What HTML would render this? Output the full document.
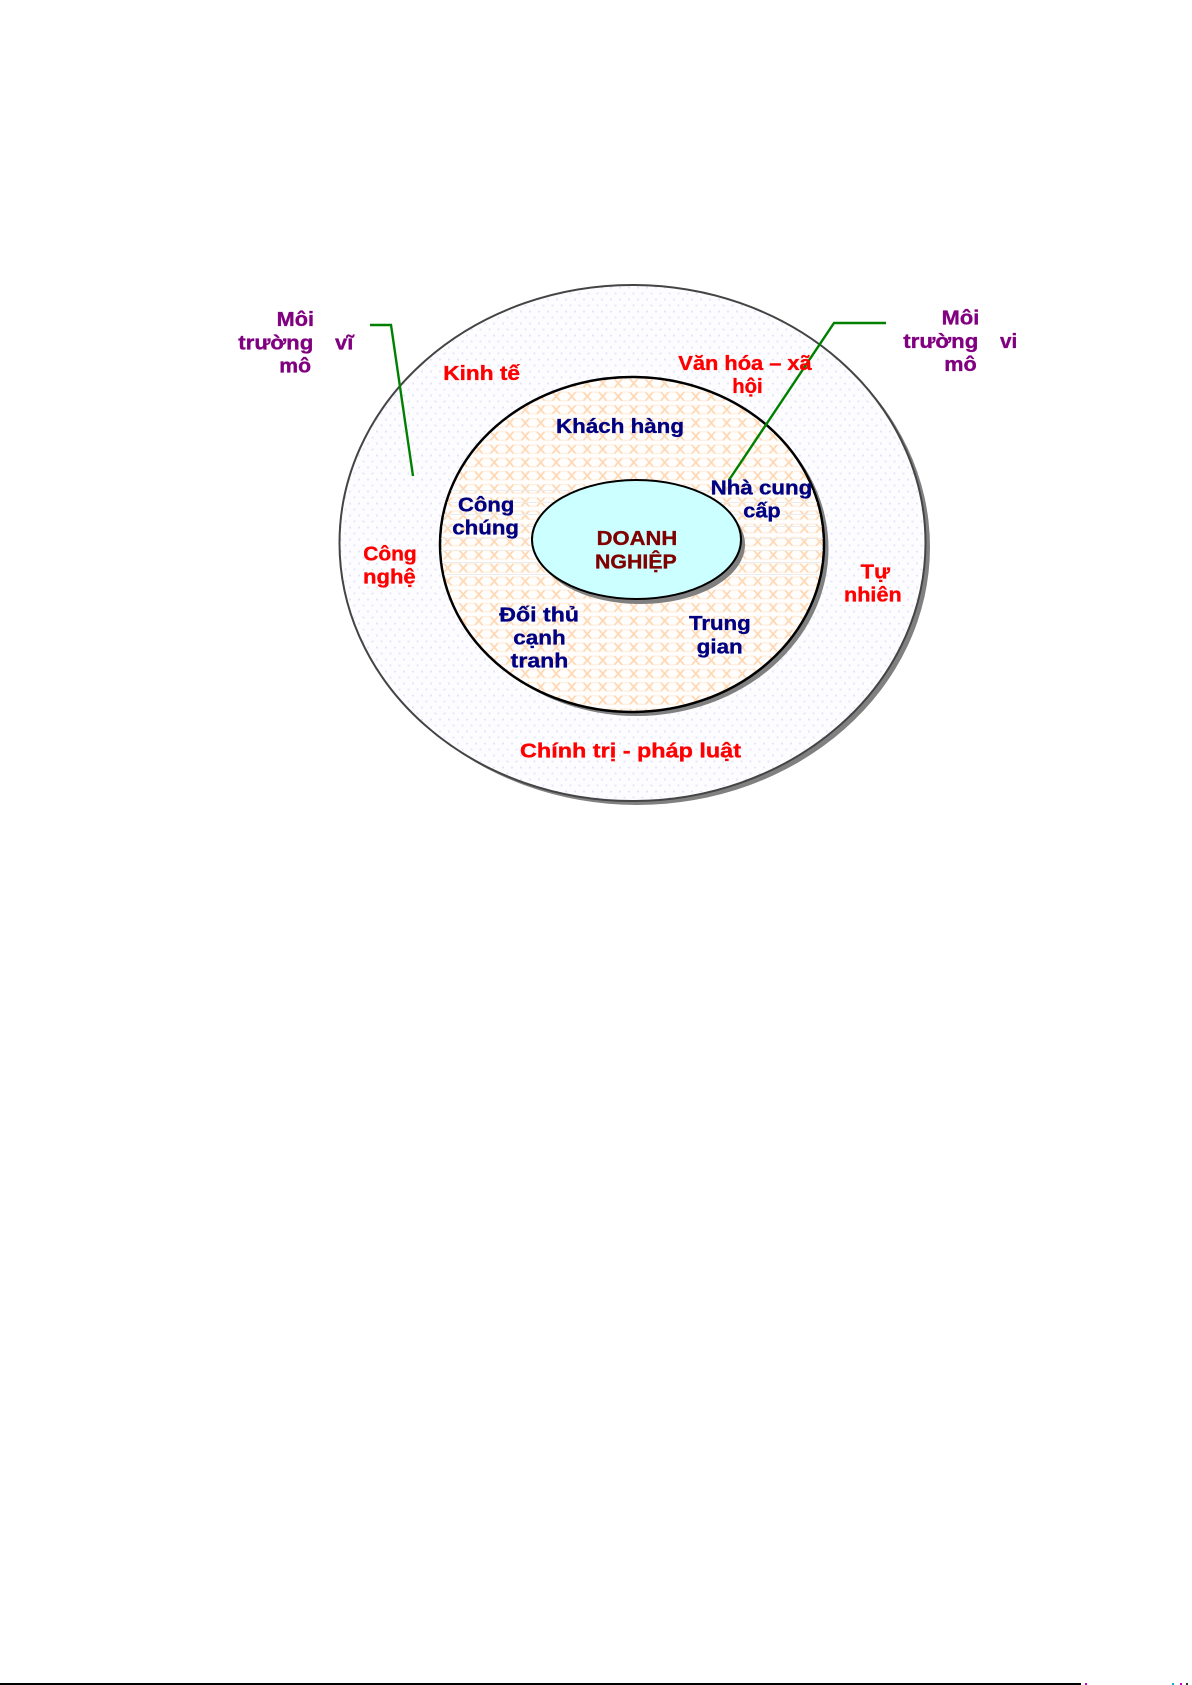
<!DOCTYPE html>
<html lang="vi">
<head>
<meta charset="utf-8">
<title>Môi trường doanh nghiệp</title>
<style>
html,body{margin:0;padding:0;background:#fff}
svg{display:block}
text{font-family:"Liberation Sans",sans-serif;font-weight:700;font-size:20px;stroke-width:.35px}
.p{fill:#800080;stroke:#800080}.r{fill:#f00;stroke:#f00}.n{fill:#000080;stroke:#000080}.d{fill:#800000;stroke:#800000}
</style>
</head>
<body>
<svg xmlns="http://www.w3.org/2000/svg" width="1192" height="1685" viewBox="0 0 1192 1685">
<defs>
<pattern id="dots" patternUnits="userSpaceOnUse" width="9" height="12" x="339" y="285">
<rect width="9" height="12" fill="#fdfdff"/>
<rect x="1" y="1.5" width="2" height="2" fill="#e6e6fb"/>
<rect x="5.5" y="7.5" width="2" height="2" fill="#e6e6fb"/>
</pattern>
<pattern id="scale" patternUnits="userSpaceOnUse" width="15.5" height="13.2" x="440" y="377">
<rect width="15.5" height="13.2" fill="#fffefd"/>
<path d="M0 2 H4 M11.5 2 H15.5 M0 10.5 H4 M11.5 10.5 H15.5" fill="none" stroke="#ffeede" stroke-width="1.2"/>
<path d="M4 2 L11.5 10.5 M4 10.5 L11.5 2" fill="none" stroke="#ffd9b5" stroke-width="1.8"/>
</pattern>
<clipPath id="mid"><ellipse cx="632" cy="544.5" rx="191" ry="166.5"/></clipPath>
</defs>
<rect width="1192" height="1685" fill="#fff"/>

<ellipse cx="637" cy="547" rx="293" ry="258" fill="#808080"/>
<ellipse cx="632.5" cy="543" rx="293" ry="258" fill="url(#dots)" stroke="#444" stroke-width="2"/>

<ellipse cx="636.5" cy="548.5" rx="192" ry="167.5" fill="#808080"/>
<ellipse cx="632" cy="544.5" rx="192" ry="167.5" fill="url(#scale)" stroke="#000" stroke-width="2.5"/>
<g clip-path="url(#mid)" stroke="#ececec" stroke-width="1">
<path d="M440 490.5H830M440 502.5H830M440 514.5H830M440 526.5H830M440 538.5H830M440 550.5H830M440 562.5H830M440 574.5H830"/>
</g>

<ellipse cx="640.5" cy="544.5" rx="104.5" ry="59.5" fill="#808080"/>
<ellipse cx="636.5" cy="539.5" rx="104.5" ry="59.5" fill="#ccffff" stroke="#000" stroke-width="2"/>

<path d="M370 325H391L413 476" fill="none" stroke="#008000" stroke-width="2.4"/>
<path d="M886 323H834L729 480" fill="none" stroke="#008000" stroke-width="2.4"/>

<text class="p" x="276.7" y="326" textLength="37.3" lengthAdjust="spacingAndGlyphs">Môi</text>
<text class="p" x="238.3" y="349.3" textLength="75" lengthAdjust="spacingAndGlyphs">trường</text>
<text class="p" x="335" y="349.3" textLength="18.3" lengthAdjust="spacingAndGlyphs">vĩ</text>
<text class="p" x="279.3" y="372.3" textLength="31.7" lengthAdjust="spacingAndGlyphs">mô</text>
<text class="p" x="941.7" y="324.3" textLength="37.6" lengthAdjust="spacingAndGlyphs">Môi</text>
<text class="p" x="903.3" y="348" textLength="75" lengthAdjust="spacingAndGlyphs">trường</text>
<text class="p" x="1000" y="348" textLength="17.3" lengthAdjust="spacingAndGlyphs">vi</text>
<text class="p" x="944.3" y="371" textLength="32.4" lengthAdjust="spacingAndGlyphs">mô</text>

<text class="r" x="443.3" y="380" textLength="76.7" lengthAdjust="spacingAndGlyphs">Kinh tế</text>
<text class="r" x="678.3" y="370" textLength="133.4" lengthAdjust="spacingAndGlyphs">Văn hóa – xã</text>
<text class="r" x="732.3" y="393" textLength="30.4" lengthAdjust="spacingAndGlyphs">hội</text>
<text class="r" x="363.3" y="560.7" textLength="53.4" lengthAdjust="spacingAndGlyphs">Công</text>
<text class="r" x="363" y="583.5" textLength="52.7" lengthAdjust="spacingAndGlyphs">nghệ</text>
<text class="r" x="860.7" y="578.3" textLength="29.3" lengthAdjust="spacingAndGlyphs">Tự</text>
<text class="r" x="844" y="601.7" textLength="57.7" lengthAdjust="spacingAndGlyphs">nhiên</text>
<text class="r" x="520" y="757.7" textLength="221" lengthAdjust="spacingAndGlyphs">Chính trị - pháp luật</text>

<text class="n" x="556" y="433" textLength="128" lengthAdjust="spacingAndGlyphs">Khách hàng</text>
<text class="n" x="458" y="511.7" textLength="56.3" lengthAdjust="spacingAndGlyphs">Công</text>
<text class="n" x="452.3" y="534.3" textLength="66.7" lengthAdjust="spacingAndGlyphs">chúng</text>
<text class="n" x="710.7" y="494.3" textLength="101.6" lengthAdjust="spacingAndGlyphs">Nhà cung</text>
<text class="n" x="743.3" y="517.3" textLength="37.4" lengthAdjust="spacingAndGlyphs">cấp</text>
<text class="n" x="499.3" y="621.7" textLength="79.7" lengthAdjust="spacingAndGlyphs">Đối thủ</text>
<text class="n" x="513.3" y="644.3" textLength="52.4" lengthAdjust="spacingAndGlyphs">cạnh</text>
<text class="n" x="510.7" y="667.7" textLength="57.6" lengthAdjust="spacingAndGlyphs">tranh</text>
<text class="n" x="689" y="630" textLength="61.7" lengthAdjust="spacingAndGlyphs">Trung</text>
<text class="n" x="696.7" y="653.3" textLength="46" lengthAdjust="spacingAndGlyphs">gian</text>

<text class="d" x="596.7" y="545" textLength="80.6" lengthAdjust="spacingAndGlyphs">DOANH</text>
<text class="d" x="595" y="568.3" textLength="81.7" lengthAdjust="spacingAndGlyphs">NGHIỆP</text>

<rect x="0" y="1683" width="1081" height="2" fill="#000"/>
<rect x="1085" y="1683" width="2" height="2" fill="#c0c"/>
<rect x="1172" y="1683" width="2" height="2" fill="#0bb"/>
<rect x="1180" y="1683" width="2" height="2" fill="#c0c"/>
<rect x="1186" y="1683" width="2" height="2" fill="#333"/>
</svg>
</body>
</html>
